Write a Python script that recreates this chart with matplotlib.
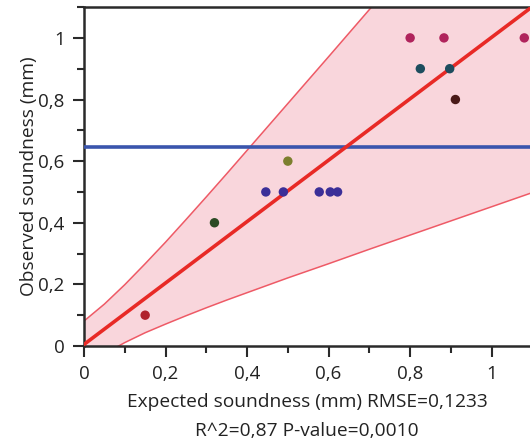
import numpy as np
import matplotlib
matplotlib.use("Agg")
import matplotlib.pyplot as plt
from matplotlib.ticker import MultipleLocator, FuncFormatter

plt.rcParams['font.family'] = ['Open Sans', 'DejaVu Sans']

# observed vs expected points
expected = [0.15, 0.32, 0.446, 0.489, 0.577, 0.604, 0.622, 0.50, 0.80, 0.883, 1.08, 0.825, 0.897, 0.911]
observed = [0.10, 0.40, 0.50, 0.50, 0.50, 0.50, 0.50, 0.60, 1.00, 1.00, 1.00, 0.90, 0.90, 0.80]
point_colors = ['#b0222c', '#2b4a24', '#3b2f98', '#3b2f98', '#3b2f98', '#3b2f98', '#3b2f98',
                '#7c7f2e', '#b0245c', '#b0245c', '#b0245c', '#1d4d5e', '#1d4d5e', '#4a1a18']

# fitted line and band
fit_intercept = 0.005
fit_slope = 0.997
band_x = [0, 0.05, 0.1, 0.15, 0.2, 0.25, 0.3, 0.35, 0.4, 0.5, 0.6, 0.7, 0.8, 0.9, 1.0, 1.1]
band_upper = [0.081, 0.136, 0.199, 0.267, 0.337, 0.410, 0.484, 0.559, 0.635, 0.787, 0.939,
              1.092, 1.245, 1.398, 1.552, 1.706]
band_lower = [-0.071, -0.026, 0.011, 0.043, 0.071, 0.098, 0.124, 0.149, 0.173, 0.221, 0.267,
              0.314, 0.360, 0.406, 0.452, 0.498]

mean_observed = 0.645

fig = plt.figure(figsize=(5.3, 4.43), dpi=100)
ax = fig.add_axes([0.1585, 0.219, 0.8415, 0.765])

ax.fill_between(band_x, band_lower, band_upper, color='#f9d6dc', lw=0, zorder=1)
ax.plot(band_x, band_upper, color='#ee5a66', lw=1.1, zorder=2)
ax.plot(band_x, band_lower, color='#ee5a66', lw=1.1, zorder=2)

ax.axhline(mean_observed, color='#3a55ad', lw=2.6, zorder=3)

fx = np.array([0, 1.2])
ax.plot(fx, fit_intercept + fit_slope * fx, color='#e82a26', lw=2.6, zorder=4)

ax.scatter(expected, observed, c=point_colors, s=46, zorder=5, linewidths=0)

ax.set_xlim(0, 1.094)
ax.set_ylim(0, 1.1)

ax.xaxis.set_major_locator(MultipleLocator(0.2))
ax.xaxis.set_minor_locator(MultipleLocator(0.1))
ax.yaxis.set_major_locator(MultipleLocator(0.2))
ax.yaxis.set_minor_locator(MultipleLocator(0.1))

def comma_fmt(v, pos):
    s = ('%.1f' % v).rstrip('0').rstrip('.')
    return s.replace('.', ',')

ax.xaxis.set_major_formatter(FuncFormatter(comma_fmt))
ax.yaxis.set_major_formatter(FuncFormatter(comma_fmt))

for s in ['left', 'bottom', 'top']:
    ax.spines[s].set_linewidth(1.8)
    ax.spines[s].set_color('#2a2a2a')
ax.spines['right'].set_visible(False)

ax.tick_params(which='major', length=8, width=1.5, color='#2a2a2a', labelsize=13.5,
               labelcolor='#222222', pad=6)
ax.tick_params(which='minor', length=5, width=1.5, color='#2a2a2a')

ax.set_xlabel("Expected soundness (mm) RMSE=0,1233\nR^2=0,87 P-value=0,0010",
              fontsize=13.8, color='#222222', labelpad=7, linespacing=1.75)
ax.set_ylabel("Observed soundness (mm)", fontsize=13.8, color='#222222', labelpad=0)

fig.savefig("out.png", dpi=100)
